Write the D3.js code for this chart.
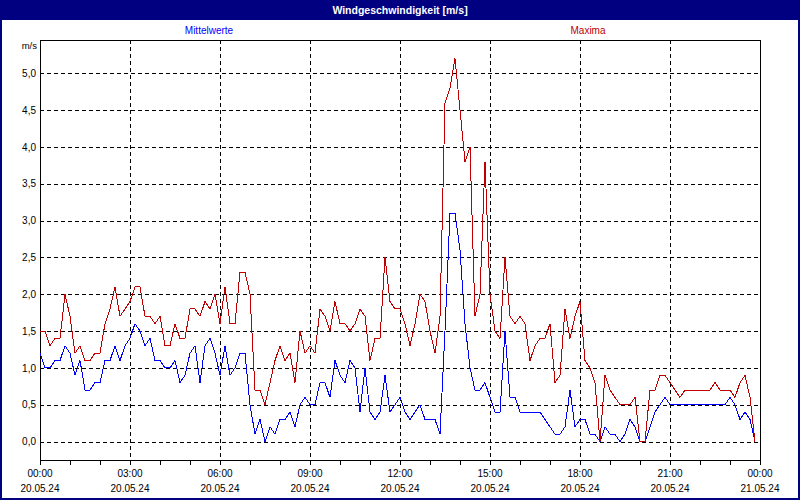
<!DOCTYPE html>
<html>
<head>
<meta charset="utf-8">
<script src="https://cdn.jsdelivr.net/npm/d3@7"></script>
<style>
  body { margin: 0; background: #fff; }
  svg { display: block; font-family: "Liberation Sans", Arial, sans-serif; }
</style>
</head>
<body>
<div class="chart"></div>
<script>
var w = 800,
    h = 500;

// 10-minute values, 20.05.24 00:00 .. 23:50
var mittelwerte = [
  1.2, 1.0, 1.0, 1.1, 1.1, 1.3, 1.2, 0.9, 1.1, 0.7, 0.7, 0.8, 0.8, 1.1, 1.1, 1.3, 1.1, 1.3, 1.4, 1.6,
  1.5, 1.3, 1.4, 1.1, 1.1, 1.0, 1.0, 1.1, 0.8, 0.9, 1.2, 1.3, 0.8, 1.3, 1.4, 1.2, 0.9, 1.3, 0.9, 1.0,
  1.2, 1.2, 0.5, 0.1, 0.3, 0.0, 0.2, 0.1, 0.3, 0.3, 0.4, 0.2, 0.5, 0.6, 0.5, 0.5, 0.8, 0.8, 0.6, 1.1,
  0.9, 0.8, 1.1, 1.0, 0.4, 1.0, 0.4, 0.3, 0.4, 0.9, 0.4, 0.5, 0.6, 0.4, 0.3, 0.4, 0.5, 0.3, 0.3, 0.3,
  0.1, 1.5, 3.1, 3.1, 2.6, 1.6, 1.0, 0.7, 0.7, 0.8, 0.6, 0.4, 0.4, 1.5, 0.6, 0.6, 0.4, 0.4, 0.4, 0.4,
  0.4, 0.3, 0.2, 0.1, 0.1, 0.2, 0.7, 0.2, 0.3, 0.3, 0.1, 0.1, 0.0, 0.2, 0.1, 0.1, 0.0, 0.1, 0.3, 0.2,
  0.0, 0.0, 0.2, 0.4, 0.5, 0.6, 0.5, 0.5, 0.5, 0.5, 0.5, 0.5, 0.5, 0.5, 0.5, 0.5, 0.5, 0.5, 0.6, 0.5,
  0.3, 0.4, 0.3, 0.0
];

var maxima = [
  1.5, 1.5, 1.3, 1.4, 1.4, 2.0, 1.7, 1.2, 1.3, 1.1, 1.1, 1.2, 1.2, 1.6, 1.8, 2.1, 1.7, 1.8, 1.9, 2.1,
  2.1, 1.7, 1.7, 1.6, 1.7, 1.3, 1.3, 1.6, 1.4, 1.4, 1.8, 1.8, 1.7, 1.9, 1.8, 2.0, 1.6, 2.1, 1.6, 1.6,
  2.3, 2.3, 2.0, 0.7, 0.7, 0.5, 0.8, 1.1, 1.3, 1.1, 1.2, 0.8, 1.5, 1.2, 1.3, 1.2, 1.8, 1.7, 1.5, 1.9,
  1.6, 1.6, 1.5, 1.6, 1.8, 1.7, 1.1, 1.4, 1.4, 2.5, 1.9, 1.8, 1.8, 1.6, 1.3, 1.6, 2.0, 1.9, 1.5, 1.2,
  1.7, 4.6, 4.8, 5.2, 4.5, 3.8, 4.0, 1.7, 2.0, 3.8, 2.0, 1.5, 1.4, 2.5, 1.7, 1.6, 1.7, 1.6, 1.1, 1.3,
  1.4, 1.4, 1.6, 0.8, 0.9, 1.8, 1.4, 1.7, 1.9, 1.1, 1.0, 0.8, 0.0, 0.9, 0.7, 0.6, 0.5, 0.5, 0.5, 0.6,
  0.0, 0.0, 0.7, 0.7, 0.9, 0.9, 0.8, 0.7, 0.6, 0.7, 0.7, 0.7, 0.7, 0.7, 0.7, 0.8, 0.7, 0.7, 0.7, 0.6,
  0.8, 0.9, 0.6, 0.0
];

var yTicks = [0, 0.5, 1, 1.5, 2, 2.5, 3, 3.5, 4, 4.5, 5];
var start = new Date(2024, 4, 20, 0, 0),
    end = new Date(2024, 4, 21, 0, 0);
var title = 'Windgeschwindigkeit [m/s]';

var svg = d3.select('.chart').append('svg').attr('width', w).attr('height', h);

var x = d3.scaleTime().domain([start, end]).range([40, 760]);
var y = d3.scaleLinear().domain([-0.25, 5.45]).range([460, 40]);

var timeOf = function (i) { return new Date(start.getTime() + i * 600000); };

// frame of the window
svg.append('rect').attr('x', 1).attr('y', 1).attr('width', w - 2).attr('height', h - 2)
  .attr('fill', '#fff').attr('stroke', '#000080').attr('stroke-width', 2);
svg.append('rect').attr('x', 0).attr('y', 0).attr('width', w).attr('height', 20).attr('fill', '#000080');
svg.append('text').attr('x', w / 2).attr('y', 14).attr('text-anchor', 'middle')
  .attr('fill', '#fff').attr('font-weight', 'bold').attr('font-size', 10.5).text(title);

// legend
svg.append('text').attr('x', 209).attr('y', 34).attr('text-anchor', 'middle')
  .attr('font-size', 10).attr('fill', '#0000ff').text('Mittelwerte');
svg.append('text').attr('x', 588).attr('y', 34).attr('text-anchor', 'middle')
  .attr('font-size', 10).attr('fill', '#c00000').text('Maxima');

// grid
var grid = svg.append('g').attr('stroke', '#000').attr('stroke-dasharray', '4,3')
  .attr('shape-rendering', 'crispEdges');
grid.selectAll('.hg').data(yTicks).enter().append('line')
  .attr('x1', 40).attr('x2', 760)
  .attr('y1', function (d) { return Math.round(y(d)) + 0.5; })
  .attr('y2', function (d) { return Math.round(y(d)) + 0.5; });
grid.selectAll('.vg').data(d3.timeHour.every(3).range(d3.timeHour.offset(start, 3), end)).enter().append('line')
  .attr('y1', 40).attr('y2', 460)
  .attr('x1', function (d) { return Math.round(x(d)) + 0.5; })
  .attr('x2', function (d) { return Math.round(x(d)) + 0.5; });

// y labels
var yAxis = d3.axisLeft(y).tickValues(yTicks).tickSize(0).tickPadding(4)
  .tickFormat(function (d) { return d3.format('.1f')(d).replace('.', ','); });
var gy = svg.append('g').attr('transform', 'translate(40,0)').call(yAxis);
gy.select('.domain').remove();
gy.selectAll('text').attr('font-size', 10).attr('font-family', null).attr('fill', '#000');
svg.append('text').attr('x', 37).attr('y', 49).attr('text-anchor', 'end')
  .attr('font-size', 9.5).text('m/s');

// x ticks (every hour) and labels (every 3 hours)
var xTicks = d3.axisBottom(x).ticks(d3.timeHour.every(1)).tickSize(4).tickFormat('');
var gx = svg.append('g').attr('transform', 'translate(0,460.5)').call(xTicks);
gx.select('.domain').remove();
gx.selectAll('line').attr('shape-rendering', 'crispEdges');

var labels = svg.append('g').attr('font-size', 10).attr('text-anchor', 'middle');
var lab = labels.selectAll('text').data(d3.timeHour.every(3).range(start, d3.timeMinute.offset(end, 1)))
  .enter().append('text')
  .attr('transform', function (d) { return 'translate(' + x(d) + ',0)'; });
lab.append('tspan').attr('x', 0).attr('y', 477).text(d3.timeFormat('%H:%M'));
lab.append('tspan').attr('x', 0).attr('y', 492).text(d3.timeFormat('%d.%m.%y'));

// plot frame
svg.append('rect').attr('x', 40.5).attr('y', 40.5).attr('width', 720).attr('height', 420)
  .attr('fill', 'none').attr('stroke', '#000').attr('shape-rendering', 'crispEdges');

// lines
var line = d3.line()
  .x(function (d, i) { return x(timeOf(i)); })
  .y(function (d) { return y(d); });

svg.append('path').datum(mittelwerte).attr('d', line)
  .attr('fill', 'none').attr('stroke', '#0000ff').attr('stroke-width', 1)
  .attr('shape-rendering', 'crispEdges');
svg.append('path').datum(maxima).attr('d', line)
  .attr('fill', 'none').attr('stroke', '#c00000').attr('stroke-width', 1)
  .attr('shape-rendering', 'crispEdges');
</script>
</body>
</html>
